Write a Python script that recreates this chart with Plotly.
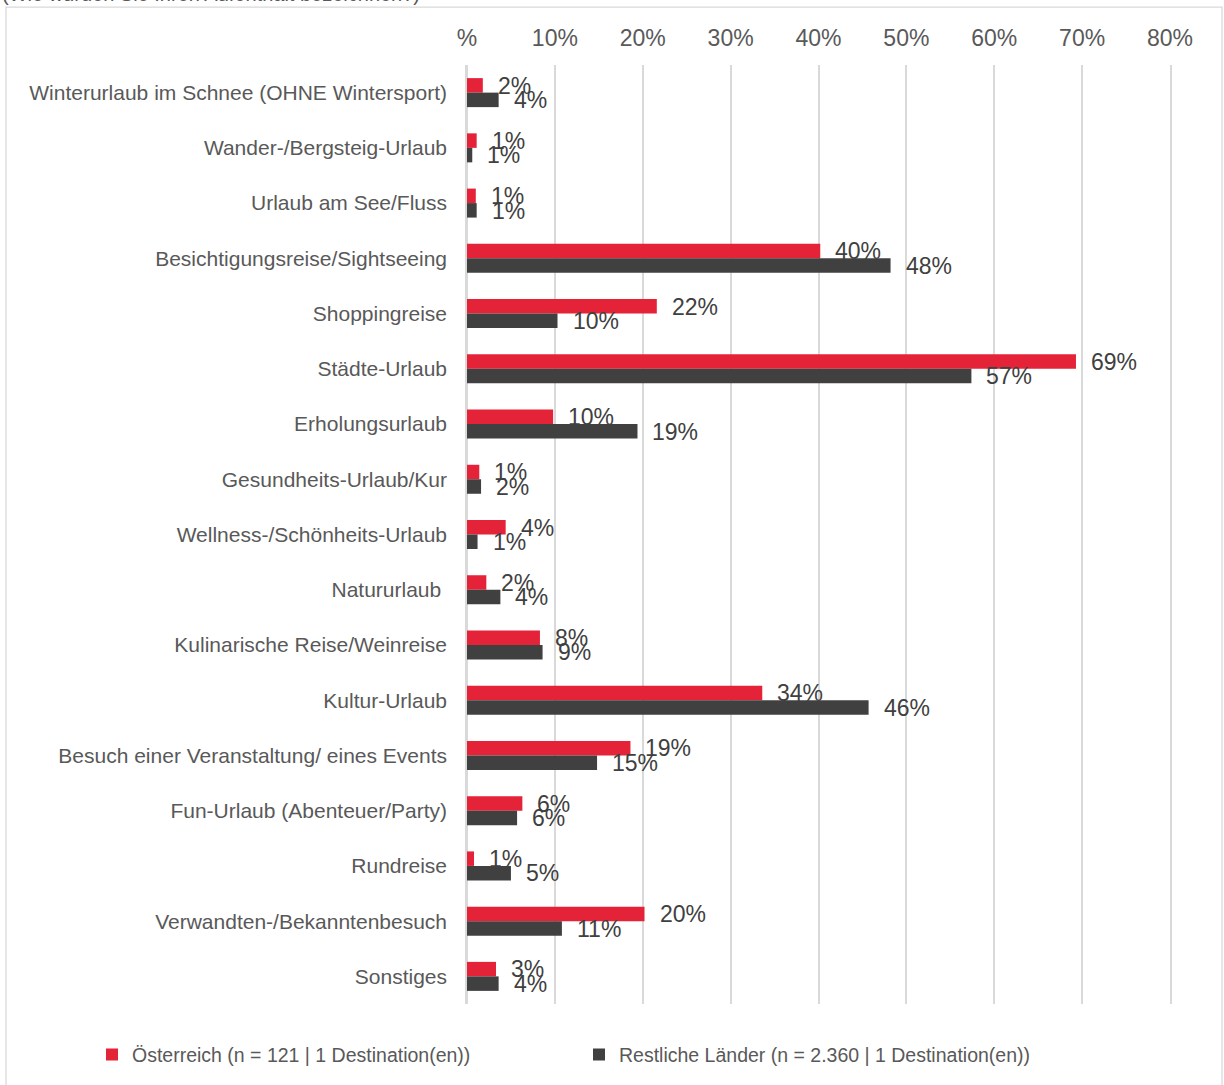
import plotly.graph_objects as go

# Kategorien (von oben nach unten)
categories = [
    "Winterurlaub im Schnee (OHNE Wintersport)",
    "Wander-/Bergsteig-Urlaub",
    "Urlaub am See/Fluss",
    "Besichtigungsreise/Sightseeing",
    "Shoppingreise",
    "Städte-Urlaub",
    "Erholungsurlaub",
    "Gesundheits-Urlaub/Kur",
    "Wellness-/Schönheits-Urlaub",
    "Natururlaub ",
    "Kulinarische Reise/Weinreise",
    "Kultur-Urlaub",
    "Besuch einer Veranstaltung/ eines Events",
    "Fun-Urlaub (Abenteuer/Party)",
    "Rundreise",
    "Verwandten-/Bekanntenbesuch",
    "Sonstiges",
]

oesterreich = [1.8, 1.1, 1.0, 40.2, 21.6, 69.3, 9.8, 1.4, 4.4, 2.2, 8.3, 33.6, 18.6, 6.3, 0.8, 20.2, 3.3]
restliche = [3.6, 0.6, 1.1, 48.2, 10.3, 57.4, 19.4, 1.6, 1.2, 3.8, 8.6, 45.7, 14.8, 5.7, 5.0, 10.8, 3.6]

series_names = [
    "Österreich (n = 121 | 1 Destination(en))",
    "Restliche Länder (n = 2.360 | 1 Destination(en))",
]
series_colors = ["#E42238", "#404040"]

tick_vals = [0, 10, 20, 30, 40, 50, 60, 70, 80]
tick_text = ["%", "10%", "20%", "30%", "40%", "50%", "60%", "70%", "80%"]

title_text = "(Wie würden Sie Ihren Aufenthalt bezeichnen?)"

TEXT = "#595959"
GRID = "#D9D9D9"
FONT = "Liberation Sans, Arial, sans-serif"

fig = go.Figure()
for name, vals, color in zip(series_names, [oesterreich, restliche], series_colors):
    fig.add_trace(go.Bar(
        y=categories, x=vals, name=name, orientation="h",
        marker=dict(color=color, line=dict(width=0)),
    ))

# Datenbeschriftungen rechts neben den Balken
for vals, yshift in [(oesterreich, 7), (restliche, -7.5)]:
    for cat, v in zip(categories, vals):
        fig.add_annotation(
            x=v, y=cat, xref="x", yref="y", text=f"{v:.0f}%",
            showarrow=False, xanchor="left", yanchor="middle",
            xshift=13, yshift=yshift,
            font=dict(size=23, color="#404040", family=FONT),
        )

# angeschnittener Titel oben
fig.add_annotation(
    x=(0 - 467) / 703, y=(1004 + 7) / 940, xref="paper", yref="paper",
    text=title_text, showarrow=False, xanchor="left", yanchor="middle",
    font=dict(size=20, color=TEXT, family=FONT),
)

# Rahmen um das Diagramm
fig.add_shape(
    type="rect", xref="paper", yref="paper",
    x0=(6 - 467) / 703, x1=(1222 - 467) / 703,
    y0=(1004 - 1090) / 940, y1=(1004 - 6) / 940,
    line=dict(color=GRID, width=1.3), fillcolor="rgba(0,0,0,0)", layer="below",
)

fig.update_layout(
    width=1224, height=1085,
    margin=dict(l=467, r=54, t=65, b=81, autoexpand=False),
    paper_bgcolor="white", plot_bgcolor="white",
    barmode="group", bargap=0.475, bargroupgap=0,
    font=dict(family=FONT, color=TEXT, size=20),
    legend=dict(
        orientation="h", xref="paper", yref="paper",
        x=(92 - 467) / 703, xanchor="left", y=(1004 - 1055) / 940, yanchor="middle",
        font=dict(size=19.5, color=TEXT), itemwidth=30, entrywidth=442,
        traceorder="normal", tracegroupgap=0,
    ),
    showlegend=True,
)
fig.update_xaxes(
    side="top", range=[0, 80], tickvals=tick_vals, ticktext=tick_text,
    showgrid=True, gridcolor=GRID, gridwidth=1.5, zeroline=True,
    zerolinecolor=GRID, zerolinewidth=1.5,
    ticks="outside", ticklen=9, tickcolor="rgba(0,0,0,0)",
    tickfont=dict(size=23, color=TEXT), showline=False,
)
# Achsenlinie links + gespiegelt rechts (Gitterlinie bei 80 %)
fig.update_yaxes(
    autorange="reversed", showgrid=False, ticks="outside", ticklen=14,
    tickcolor="rgba(0,0,0,0)", tickfont=dict(size=21, color=TEXT),
    showline=True, mirror=True, linecolor=GRID, linewidth=1.5,
)

fig.write_html(
    "out.html",
    config={"displayModeBar": False},
    post_script="document.body.style.margin='0';",
)
